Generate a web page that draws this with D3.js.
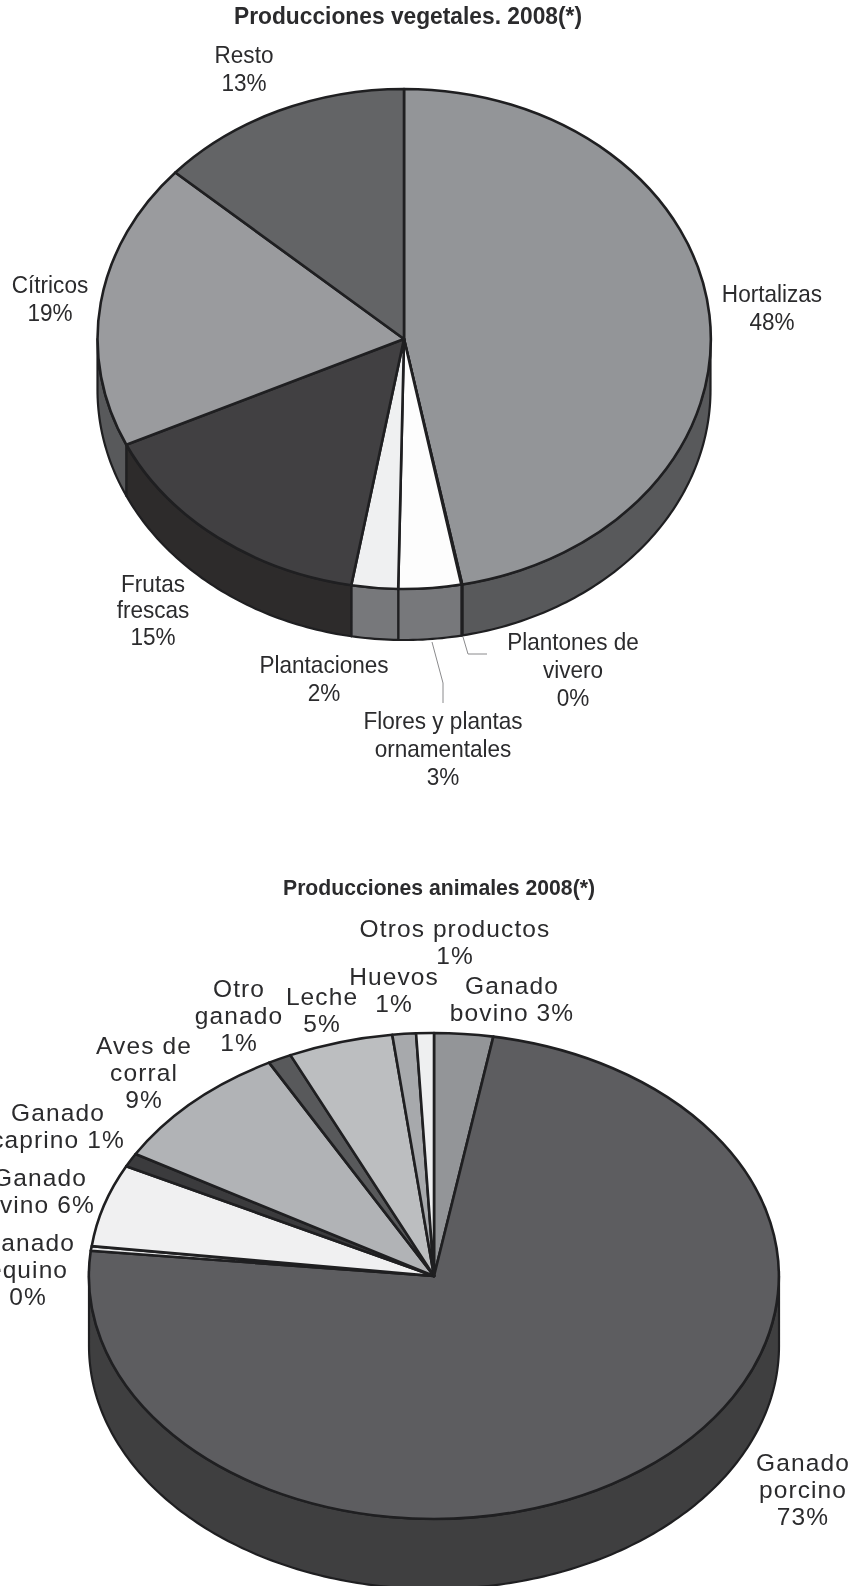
<!DOCTYPE html>
<html><head><meta charset="utf-8">
<script src="https://cdn.jsdelivr.net/npm/d3@7"></script>
<style>html,body{margin:0;padding:0;background:#fff}svg{display:block;filter:blur(0.5px)}text{font-family:"Liberation Sans",Arial,sans-serif;fill:#2b2b2d}</style>
</head><body><svg id="c" width="852" height="1586"></svg>
<script>
// Top pie, clockwise from 12 o'clock
const vegCategories = ["Hortalizas","Plantones de vivero","Flores y plantas ornamentales","Plantaciones","Frutas frescas","Cítricos","Resto"];
const vegShares = [46.95,0.05,3.3,2.45,15.3,18.55,13.4];
const vegPercentLabels = ["48%","0%","3%","2%","15%","19%","13%"];
const vegTopColors = ["#939598","#fdfdfd","#fdfdfd","#eff0f1","#414042","#9a9b9e","#636466"];
const vegSideColors = ["#58595b","#77787b","#77787b","#77787b","#2d2b2b","#58595b","#58595b"];
// Bottom pie, clockwise from 12 o'clock
const animCategories = ["Ganado bovino","Ganado porcino","Ganado equino","Ganado ovino","Ganado caprino","Aves de corral","Otro ganado","Leche","Huevos","Otros productos"];
const animShares = [2.75,73.9,0.3,5.5,0.9,8.7,1.1,4.9,1.1,0.83];
const animPercentLabels = ["3%","73%","0%","6%","1%","9%","1%","5%","1%","1%"];
const animTopColors = ["#939598","#5d5d60","#e6e7e8","#f0f0f1","#3b3b3d","#b1b3b6","#58595b","#bcbec0","#a7a9ac","#eeeff0"];
const animSideColors = ["#3f3f40","#3f3f40","#3f3f40","#3f3f40","#3f3f40","#3f3f40","#3f3f40","#3f3f40","#3f3f40","#3f3f40"];

const svg = d3.select("#c");
const ink = "#1f1f21";

function pie3d(shares, tops, sides, g){
  const arcs = d3.pie().sort(null).value(d=>d)(shares);
  const root = svg.append("g");
  const px = a => g.cx + g.rx*Math.sin(a);
  const py = (a,d=0) => g.cy - g.ry*Math.cos(a) + d;
  const lo = Math.PI/2, hi = 3*Math.PI/2;
  // Side wall, only the part of the rim that faces the viewer
  arcs.forEach((s,i)=>{
    const a0 = Math.max(s.startAngle,lo), a1 = Math.min(s.endAngle,hi);
    if(a1<=a0) return;
    const n = Math.max(2,Math.ceil((a1-a0)*60));
    const t = d3.range(n+1).map(k=>a0+(a1-a0)*k/n);
    const pts = t.map(a=>[px(a),py(a)]).concat(t.slice().reverse().map(a=>[px(a),py(a,g.depth)]));
    root.append("path").attr("d",d3.line()(pts)+"Z").attr("fill",sides[i]).attr("stroke",ink).attr("stroke-width",2.2).attr("stroke-linejoin","round");
  });
  // Top face: unit-radius d3.arc squashed into an ellipse
  const arc = d3.arc().innerRadius(0).outerRadius(1);
  const face = root.append("g").attr("transform",`translate(${g.cx},${g.cy}) scale(${g.rx},${g.ry})`);
  face.selectAll("path").data(arcs).join("path").attr("d",arc)
    .attr("fill",(d,i)=>tops[i]).attr("stroke",ink).attr("stroke-width",2.6)
    .attr("stroke-linejoin","round").attr("vector-effect","non-scaling-stroke");
}
pie3d(vegShares,vegTopColors,vegSideColors,{cx:404,cy:339,rx:306.5,ry:250,depth:51});
pie3d(animShares,animTopColors,animSideColors,{cx:434,cy:1276,rx:345,ry:243,depth:70});

function label(lines,x,y,size,lh,ls,sx){
  const t = svg.append("text").attr("text-anchor","middle").attr("font-size",size).attr("letter-spacing",ls||0)
    .attr("transform",`translate(${x},${y}) scale(${sx||1},1)`);
  lines.forEach((l,i)=>t.append("tspan").attr("x",0).attr("y",i*lh).text(l));
}
svg.append("text").attr("x",408).attr("y",24).attr("text-anchor","middle").attr("font-size",24).attr("font-weight","bold").attr("textLength",348).attr("lengthAdjust","spacingAndGlyphs").text("Producciones vegetales. 2008(*)");
svg.append("text").attr("x",439).attr("y",895).attr("text-anchor","middle").attr("font-size",22).attr("font-weight","bold").attr("textLength",312).attr("lengthAdjust","spacingAndGlyphs").text("Producciones animales 2008(*)");

const fs=24, lh=28.2, sq=0.94;
label(["Hortalizas",vegPercentLabels[0]],772,302,fs,lh,0,sq);
label(["Plantones de","vivero",vegPercentLabels[1]],573,650,fs,lh,0,sq);
label(["Flores y plantas","ornamentales",vegPercentLabels[2]],443,729,fs,lh,0,sq);
label(["Plantaciones",vegPercentLabels[3]],324,673,fs,lh,0,sq);
label(["Frutas","frescas",vegPercentLabels[4]],153,592,fs,26.5,0,sq);
label(["Cítricos",vegPercentLabels[5]],50,293,fs,lh,0,sq);
label(["Resto",vegPercentLabels[6]],244,63,fs,lh,0,sq);

const fb=24.5, lb=27, ls=1.1;
label(["Otros productos",animPercentLabels[9]],455,937,fb,lb,ls);
label(["Ganado","bovino "+animPercentLabels[0]],512,994,fb,lb,ls);
label(["Huevos",animPercentLabels[8]],394,985,fb,lb,ls);
label(["Leche",animPercentLabels[7]],322,1005,fb,lb,ls);
label(["Otro","ganado",animPercentLabels[6]],239,997,fb,lb,ls);
label(["Aves de","corral",animPercentLabels[5]],144,1054,fb,lb,ls);
label(["Ganado","caprino "+animPercentLabels[4]],58,1121,fb,lb,ls);
label(["Ganado","ovino "+animPercentLabels[3]],40,1186,fb,lb,ls);
label(["Ganado","equino",animPercentLabels[2]],28,1251,fb,lb,ls);
label(["Ganado","porcino",animPercentLabels[1]],803,1471,fb,lb,ls);

// Leader lines
const leader=d3.line();
svg.append("path").attr("d",leader([[432,642],[443,683],[443,703]])).attr("fill","none").attr("stroke","#8a8a8c").attr("stroke-width",1);
svg.append("path").attr("d",leader([[463,637],[468,654],[487,654]])).attr("fill","none").attr("stroke","#8a8a8c").attr("stroke-width",1);
</script></body></html>
